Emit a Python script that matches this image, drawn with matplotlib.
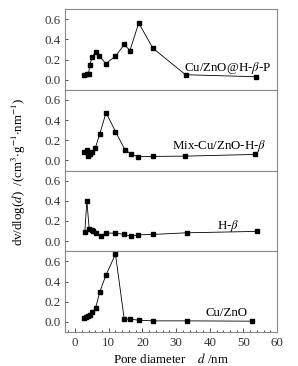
import numpy as np
import matplotlib
matplotlib.use('Agg')
import matplotlib.pyplot as plt
from matplotlib.ticker import MultipleLocator

plt.rcParams['font.family'] = ['Liberation Serif', 'DejaVu Serif']
plt.rcParams['mathtext.fontset'] = 'stix'

# Cu/ZnO@H-beta-P
x1 = [2.8, 3.4, 4.0, 4.4, 5.1, 6.1, 7.2, 9.1, 12.0, 14.6, 16.3, 18.9, 23.1, 32.8, 53.7]
y1 = [0.043, 0.053, 0.06, 0.15, 0.227, 0.277, 0.237, 0.16, 0.233, 0.35, 0.29, 0.563, 0.313, 0.05, 0.03]
# Mix-Cu/ZnO-H-beta
x2 = [2.8, 3.4, 3.8, 4.3, 5.1, 6.0, 7.3, 9.2, 12.0, 14.8, 16.5, 18.7, 23.0, 32.7, 53.5]
y2 = [0.08, 0.107, 0.04, 0.063, 0.087, 0.123, 0.26, 0.473, 0.287, 0.107, 0.067, 0.037, 0.04, 0.043, 0.06]
# H-beta
x3 = [2.9, 3.5, 4.2, 4.9, 5.4, 6.3, 7.6, 9.1, 12.0, 14.6, 16.5, 18.8, 23.2, 33.1, 54.1]
y3 = [0.093, 0.4, 0.12, 0.107, 0.097, 0.083, 0.053, 0.08, 0.08, 0.067, 0.05, 0.063, 0.067, 0.083, 0.097]
# Cu/ZnO
x4 = [2.8, 3.3, 3.8, 4.3, 5.1, 6.1, 7.3, 9.2, 12.0, 14.6, 16.4, 18.9, 23.1, 33.1, 52.4]
y4 = [0.037, 0.047, 0.057, 0.07, 0.097, 0.137, 0.293, 0.467, 0.67, 0.027, 0.027, 0.017, 0.01, 0.01, 0.007]

labels = ['Cu/ZnO@H-$\\beta$-P', 'Mix-Cu/ZnO-H-$\\beta$', 'H-$\\beta$', 'Cu/ZnO']
label_pos = [(45.3, 0.12), (42.9, 0.14), (45.3, 0.15), (45.0, 0.09)]

series = [(x1, y1), (x2, y2), (x3, y3), (x4, y4)]

fs = 9.3
fig, axes = plt.subplots(4, 1, figsize=(2.98, 3.66), dpi=100, sharex=True)
fig.subplots_adjust(left=0.218, right=0.93, top=0.975, bottom=0.093, hspace=0)

for i, (ax, (x, y), lab, pos) in enumerate(zip(axes, series, labels, label_pos)):
    ax.plot(x, y, '-s', color='black', lw=0.6, ms=2.8)
    ax.set_xlim(-3, 60)
    ax.set_ylim(-0.1, 0.7)
    ax.set_yticks([0.0, 0.2, 0.4, 0.6])
    ax.set_yticklabels(['0.0', '0.2', '0.4', '0.6'])
    ax.tick_params(axis='y', direction='in', length=2.5, width=0.6, labelsize=fs, colors='#333333', pad=3)
    ax.tick_params(axis='x', which='both', direction='in', width=0.6, colors='#333333', labelsize=fs)
    ax.tick_params(axis='x', which='major', length=3)
    ax.tick_params(axis='x', which='minor', length=1.8)
    if i < 3:
        ax.tick_params(axis='x', which='both', bottom=False, labelbottom=False)
    for s in ax.spines.values():
        s.set_color('#8a8a8a')
        s.set_linewidth(0.8)
    ax.text(pos[0], pos[1], lab, ha='center', va='center', fontsize=fs)

axes[-1].xaxis.set_major_locator(MultipleLocator(10))
axes[-1].xaxis.set_minor_locator(MultipleLocator(2))
axes[-1].set_xlabel('Pore diameter    $\\it{d}$ /nm', fontsize=fs, labelpad=2)

fig.text(0.065, 0.53, 'dv/dlog($\\it{d}$)  /(cm$^{3}$$\\cdot$g$^{-1}$$\\cdot$nm$^{-1}$)',
         rotation=90, ha='center', va='center', fontsize=fs)

fig.savefig('out.png', dpi=100)
